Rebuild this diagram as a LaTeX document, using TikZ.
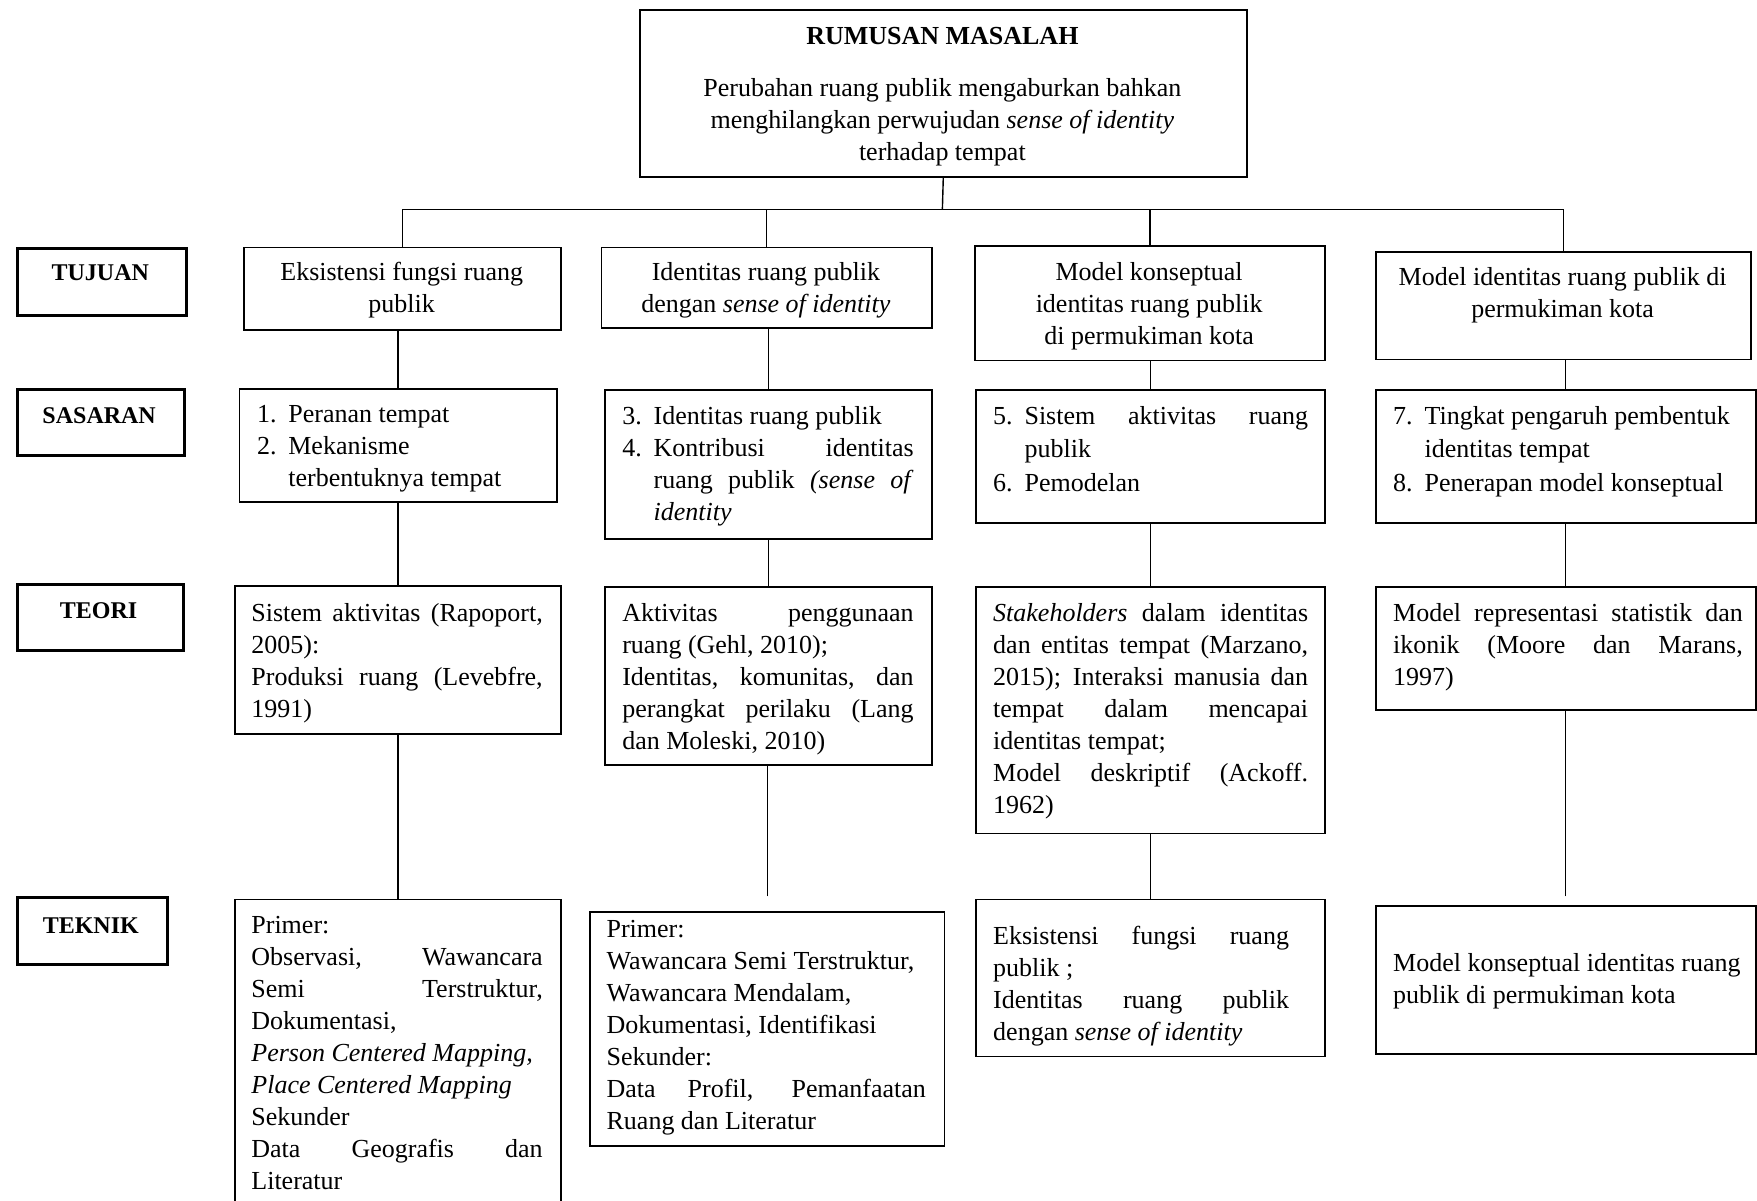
\documentclass[tikz,border=0pt]{standalone}
\usepackage{fontspec}
\setmainfont{Liberation Serif}
% one drawing unit in pt
\newlength\ux \setlength\ux{0.5603pt}
% stacked lines: left aligned or centred, baseline on the first line
\newcommand\lines[1]{\begin{tabular}[t]{@{}l@{}}#1\end{tabular}}
\newcommand\clines[1]{\begin{tabular}[t]{@{}c@{}}#1\end{tabular}}
% justified line of a given width (in units)
\newcommand\jl[2]{\makebox[#1\ux][s]{#2}}
% list items with hanging indent
\newcommand\itm[2]{\makebox[28\ux][l]{#1}#2}
\newcommand\itj[3]{\makebox[28\ux][l]{#2}\makebox[\dimexpr#1\ux-28\ux\relax][s]{#3}}
\newcommand\hang[1]{\hspace*{28\ux}#1}
\newcommand\hangj[2]{\hspace*{28\ux}\makebox[\dimexpr#1\ux-28\ux\relax][s]{#2}}

\tikzset{
  box/.style={draw, line width=0.9pt, inner sep=0pt, anchor=north west},
  lblbox/.style={draw, line width=1.5pt, inner sep=0pt, anchor=north west},
  body/.style={inner sep=0pt, font=\fontsize{13}{16}\selectfont},
  ctext/.style={body, anchor=base},
  ltext/.style={body, anchor=base west},
  lbl/.style={inner sep=0pt, anchor=base, font=\fontsize{12}{14}\selectfont\bfseries},
  link/.style={line width=0.7pt},
}

\begin{document}
\begin{tikzpicture}[x=0.5603pt, y=-0.5603pt]
\fill[white] (0,0) rectangle (1568,1071);
\useasboundingbox (0,0) rectangle (1568,1071);
\clip (0,0) rectangle (1568,1071);

% problem statement
\node[box, minimum width=542\ux, minimum height=149\ux] (top) at (570,8) {};
\node[inner sep=0pt, anchor=base, font=\fontsize{13}{16}\selectfont\bfseries] (topT) at (841,40) {RUMUSAN MASALAH};
\node[ctext] (topB) at (841,86) {\clines{Perubahan ruang publik mengaburkan bahkan\\menghilangkan perwujudan \textit{sense of identity}\\terhadap tempat}};

% row labels
\node[lblbox, minimum width=151\ux, minimum height=60\ux] (lTujuan) at (14,220) {};
\node[lbl] (lTujuanT) at (89.5,250) {TUJUAN};
\node[lblbox, minimum width=149\ux, minimum height=59\ux] (lSasaran) at (14,346) {};
\node[lbl] (lSasaranT) at (88.5,378) {SASARAN};
\node[lblbox, minimum width=148\ux, minimum height=59\ux] (lTeori) at (14,520) {};
\node[lbl] (lTeoriT) at (88,552) {TEORI};
\node[lblbox, minimum width=134\ux, minimum height=59\ux] (lTeknik) at (14,800) {};
\node[lbl] (lTeknikT) at (81,833) {TEKNIK};

% TUJUAN
\node[box, minimum width=283\ux, minimum height=74\ux] (b11) at (217,220) {};
\node[ctext] (t11) at (358.5,250) {\clines{Eksistensi fungsi ruang\\publik}};
\node[box, minimum width=295\ux, minimum height=72\ux] (b12) at (536,220) {};
\node[ctext] (t12) at (683.5,250) {\clines{Identitas ruang publik\\dengan \textit{sense of identity}}};
\node[box, minimum width=313\ux, minimum height=102\ux] (b13) at (869,219) {};
\node[ctext] (t13) at (1025.5,250) {\clines{Model konseptual\\identitas ruang publik\\di permukiman kota}};
\node[box, minimum width=335\ux, minimum height=96\ux] (b14) at (1227,224) {};
\node[ctext] (t14) at (1394.5,255) {\clines{Model identitas ruang publik di\\permukiman kota}};

% SASARAN
\node[box, minimum width=283\ux, minimum height=101\ux] (b21) at (213,346) {};
\node[ltext] (t21) at (229,377) {\lines{\itm{1.}{Peranan tempat}\\\itm{2.}{Mekanisme}\\\hang{terbentuknya tempat}}};
\node[box, minimum width=292\ux, minimum height=133\ux] (b22) at (539,347) {};
\node[ltext] (t22) at (555,379) {\lines{\itm{3.}{Identitas ruang publik}\\\itj{260}{4.}{Kontribusi identitas}\\\hangj{260}{ruang publik \textit{(sense of}}\\\hang{\textit{identity}}}};
\node[box, minimum width=312\ux, minimum height=119\ux] (b23) at (870,347) {};
\node[ltext, font=\fontsize{13}{16.6}\selectfont] (t23) at (886,379) {\lines{\itj{281}{5.}{Sistem aktivitas ruang}\\\hang{publik}\\\itm{6.}{Pemodelan}}};
\node[box, minimum width=339\ux, minimum height=119\ux] (b24) at (1227,347) {};
\node[ltext, font=\fontsize{13}{16.6}\selectfont] (t24) at (1243,379) {\lines{\itm{7.}{Tingkat pengaruh pembentuk}\\\hang{identitas tempat}\\\itm{8.}{Penerapan model konseptual}}};

% TEORI
\node[box, minimum width=291\ux, minimum height=132\ux] (b31) at (209,522) {};
\node[ltext] (t31) at (224,555) {\lines{\jl{260}{Sistem aktivitas (Rapoport,}\\2005):\\\jl{260}{Produksi ruang (Levebfre,}\\1991)}};
\node[box, minimum width=292\ux, minimum height=159\ux] (b32) at (539,523) {};
\node[ltext] (t32) at (555,555) {\lines{\jl{260}{Aktivitas penggunaan}\\ruang (Gehl, 2010);\\\jl{260}{Identitas, komunitas, dan}\\\jl{260}{perangkat perilaku (Lang}\\dan Moleski, 2010)}};
\node[box, minimum width=312\ux, minimum height=220\ux] (b33) at (870,523) {};
\node[ltext] (t33) at (886,555) {\lines{\jl{281}{\textit{Stakeholders} dalam identitas}\\\jl{281}{dan entitas tempat (Marzano,}\\\jl{281}{2015); Interaksi manusia dan}\\\jl{281}{tempat dalam mencapai}\\identitas tempat;\\\jl{281}{Model deskriptif (Ackoff.}\\1962)}};
\node[box, minimum width=339\ux, minimum height=110\ux] (b34) at (1227,523) {};
\node[ltext] (t34) at (1243,555) {\lines{\jl{312}{Model representasi statistik dan}\\\jl{312}{ikonik (Moore dan Marans,}\\1997)}};

% TEKNIK
\node[box, minimum width=291\ux, minimum height=300\ux] (b41) at (209,802) {};
\node[ltext] (t41) at (224,833) {\lines{Primer:\\\jl{260}{Observasi, Wawancara}\\\jl{260}{Semi Terstruktur,}\\Dokumentasi,\\\textit{Person Centered Mapping,}\\\textit{Place Centered Mapping}\\Sekunder\\\jl{260}{Data Geografis dan}\\Literatur}};
\node[box, minimum width=316\ux, minimum height=209\ux] (b42) at (526,813) {};
\node[ltext] (t42) at (541,837) {\lines{Primer:\\Wawancara Semi Terstruktur,\\Wawancara Mendalam,\\Dokumentasi, Identifikasi\\Sekunder:\\\jl{285}{Data Profil, Pemanfaatan}\\Ruang dan Literatur}};
\node[box, minimum width=312\ux, minimum height=140\ux] (b43) at (870,802) {};
\node[ltext] (t43) at (886,843) {\lines{\jl{264}{Eksistensi fungsi ruang}\\publik ;\\\jl{264}{Identitas ruang publik}\\dengan \textit{sense of identity}}};
\node[box, minimum width=339\ux, minimum height=132\ux] (b44) at (1227,808) {};
\node[ltext] (t44) at (1243,867) {\lines{Model konseptual identitas ruang\\publik di permukiman kota}};

% branching from the problem statement
\coordinate (bus) at (841,187);
\draw[link] (top.south) -- (bus);
\draw[link] (b11.north) |- (bus);
\draw[link] (b12.north) |- (bus);
\draw[link] (b13.north) |- (bus);
\draw[link] (b14.north) |- (bus);

% column links
\draw[link] (b21.north) -- (b21.north |- b11.south);
\draw[link] (b22.north) -- (b22.north |- b12.south);
\draw[link] (b23.north) -- (b23.north |- b13.south);
\draw[link] (b24.north) -- (b24.north |- b14.south);
\draw[link] (b31.north) -- (b31.north |- b21.south);
\draw[link] (b32.north) -- (b32.north |- b22.south);
\draw[link] (b33.north) -- (b33.north |- b23.south);
\draw[link] (b34.north) -- (b34.north |- b24.south);
\draw[link] (b41.north) -- (b41.north |- b31.south);
\draw[link, shorten <=13\ux] (b42.north) -- (b42.north |- b32.south);
\draw[link] (b43.north) -- (b43.north |- b33.south);
\draw[link, shorten <=8\ux] (b44.north) -- (b44.north |- b34.south);
\end{tikzpicture}
\end{document}
